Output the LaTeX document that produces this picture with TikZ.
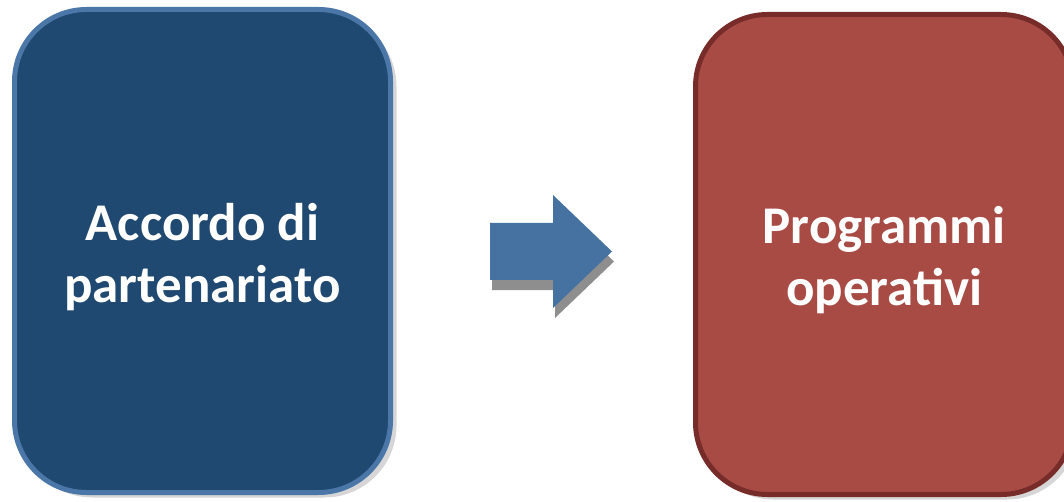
\documentclass[tikz,border=0pt]{standalone}
\usepackage{fontspec}
\setmainfont{Carlito}
\usetikzlibrary{shadows}
\definecolor{bluefill}{HTML}{1F4970}
\definecolor{blueedge}{HTML}{4A76A8}
\definecolor{redfill}{HTML}{A84B45}
\definecolor{rededge}{HTML}{772C29}
\definecolor{arrowblue}{HTML}{4672A2}
\definecolor{shadowgray}{HTML}{D6D6D6}
\definecolor{arrowshadow}{HTML}{8E8E8E}
\tikzset{
  box/.style={rounded corners=72pt, line width=5pt, inner sep=0pt,
    drop shadow={shadow xshift=6pt, shadow yshift=-5pt, fill=shadowgray, opacity=1}},
  boxtext/.style={text=white, font=\fontsize{53}{62}\selectfont\bfseries, align=center, inner sep=0pt},
  blockarrow/.style={fill=arrowblue},
  blockshadow/.style={fill=arrowshadow}
}
\begin{document}
\begin{tikzpicture}[x=1pt,y=-1pt]
\useasboundingbox (0,0) rectangle (1064,502);
\clip (0,0) rectangle (1064,502);
\node[box, draw=blueedge, fill=bluefill, minimum width=376pt, minimum height=483pt] (acc) at (202.5,251) {};
\node[boxtext] (acctext) at ([yshift=-6pt]acc.center) {Accordo di\\partenariato};
\node[box, draw=rededge, fill=redfill, minimum width=377.5pt, minimum height=480pt] (prog) at (884.25,254.5) {};
\node[boxtext] (progtext) at ([yshift=-6pt]prog.center) {Programmi\\operativi};
\coordinate (ar) at (490,251.5);
\fill[blockshadow] ([shift={(2pt,-10pt)}]ar) ++(0,-28.5) -- ++(63,0) -- ++(0,-28) -- ++(59,56.5) -- ++(-59,56.5) -- ++(0,-28) -- ++(-63,0) -- cycle;
\fill[blockarrow] (ar) ++(0,-28.5) -- ++(63,0) -- ++(0,-28) -- ++(59,56.5) -- ++(-59,56.5) -- ++(0,-28) -- ++(-63,0) -- cycle;
\end{tikzpicture}
\end{document}
